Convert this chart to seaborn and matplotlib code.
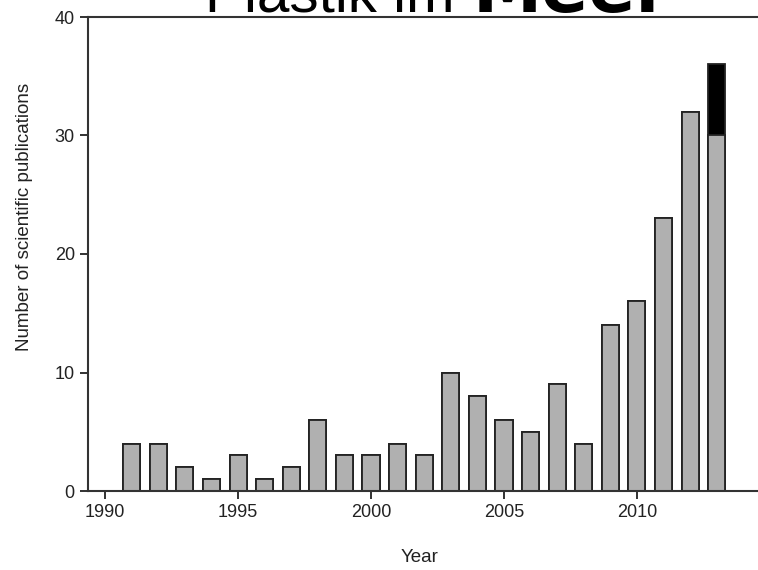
import pandas as pd
import seaborn as sns
import matplotlib.pyplot as plt

# Publications per year (grey part) and the extra black part on top
years = list(range(1991, 2014))
publications = [4, 4, 2, 1, 3, 1, 2, 6, 3, 3, 4, 3, 10, 8, 6, 5, 9, 4, 14, 16, 23, 32, 30]
extra = [0] * 22 + [6]

df = pd.DataFrame({'Year': years, 'Publications': publications, 'Extra': extra})
df['Total'] = df['Publications'] + df['Extra']

sns.set_style('ticks')
plt.rcParams['font.family'] = ['Liberation Sans', 'DejaVu Sans']

fig = plt.figure(figsize=(7.58, 5.7), dpi=100)
ax = fig.add_axes([88 / 758, 1 - 491 / 570, 1 - 88 / 758, (491 - 17) / 570])

# black on the bottom layer (total), grey drawn over it
sns.barplot(data=df, x='Year', y='Total', native_scale=True, color='black',
            saturation=1, width=0.64, edgecolor='#222222', linewidth=1.3,
            errorbar=None, ax=ax)
sns.barplot(data=df, x='Year', y='Publications', native_scale=True, color='#b0b0b0',
            saturation=1, width=0.64, edgecolor='#222222', linewidth=1.3,
            errorbar=None, ax=ax)

ax.set_xlim(1989.36, 2014.55)
ax.set_ylim(0, 40)
ax.set_xticks([1990, 1995, 2000, 2005, 2010])
ax.set_yticks([0, 10, 20, 30, 40])
ax.tick_params(axis='both', labelsize=13, colors='#222222', length=6, width=1.3, direction='out')

for side in ['left', 'bottom', 'top']:
    ax.spines[side].set_color('#333333')
    ax.spines[side].set_linewidth(1.5)
ax.spines['right'].set_visible(False)

ax.set_xlabel('Year', fontsize=13.5, color='#222222')
ax.set_ylabel('Number of scientific publications', fontsize=13.5, color='#222222')
ax.xaxis.set_label_coords(0.4955, -0.122)
ax.yaxis.set_label_coords(-0.082, 0.578)

# Title, cut off at the top edge
fig.text(205 / 758, 1 - 12 / 570, 'Plastik im', fontsize=42, va='baseline', ha='left',
         family='Liberation Sans', color='black')
fig.text(473 / 758, 1 - 12 / 570, 'Meer', fontsize=50, va='baseline', ha='left',
         family='DejaVu Sans', fontweight='bold', color='black')

fig.savefig('out.png', dpi=100)
